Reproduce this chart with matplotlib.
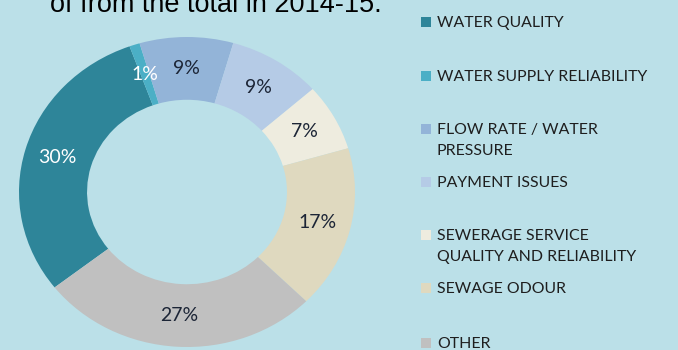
import matplotlib
matplotlib.use("Agg")
import matplotlib.pyplot as plt
from matplotlib.patches import Rectangle

# data
categories = [
    "WATER QUALITY",
    "WATER SUPPLY RELIABILITY",
    "FLOW RATE / WATER\nPRESSURE",
    "PAYMENT ISSUES",
    "SEWERAGE SERVICE\nQUALITY AND RELIABILITY",
    "SEWAGE ODOUR",
    "OTHER",
]
shares = [30, 1, 9, 9, 7, 17, 27]
colours = ["#2e8599", "#4bafc6", "#93b4d8", "#b5cbe6", "#eeecdf", "#dfd9bf", "#c0c0c0"]
label_colours = ["white", "white", "#1c2536", "#1c2536", "#1c2536", "#1c2536", "#1c2536"]
title_tail = "of from the total in 2014-15."

BG = "#bbe0e8"
W, H = 678, 350

fig = plt.figure(figsize=(W / 100, H / 100), dpi=100, facecolor=BG)

# cut-off sentence at the very top (cropped in the reference too)
fig.text(50 / W, 1 - 12 / H, title_tail, fontsize=19.5, family="Liberation Sans",
         color="black", ha="left", va="baseline")

# donut (slightly wider than tall, like the reference)
cx, cy, rx, ry = 187, 192, 168, 155
ax = fig.add_axes([(cx - rx) / W, (H - cy - ry) / H, 2 * rx / W, 2 * ry / H])
ax.set_facecolor(BG)
wedges, texts, pcts = ax.pie(
    shares,
    colors=colours,
    startangle=218,
    counterclock=False,
    radius=1,
    wedgeprops=dict(width=0.405, edgecolor="none"),
    autopct=lambda p: f"{p:.0f}%",
    pctdistance=0.8,
    textprops=dict(family="Lato", fontsize=14),
)
for t, c in zip(pcts, label_colours):
    t.set_color(c)
ax.set_aspect("auto")
ax.set_xlim(-1, 1)
ax.set_ylim(-1, 1)
ax.axis("off")

# legend drawn by hand to keep the uneven Excel-style layout
row_y = [22, 76, 129, 182, 235, 288, 343]
for name, col, y in zip(categories, colours, row_y):
    fig.patches.append(Rectangle((421 / W, 1 - (y + 5) / H), 10 / W, 10 / H,
                                 transform=fig.transFigure, facecolor=col,
                                 edgecolor="none"))
    fig.text(437 / W, 1 - (y - 6) / H, name, fontsize=11.4, family="Lato",
             color="#1e1e1e", ha="left", va="top", linespacing=1.6)

fig.savefig("out.png", dpi=100, facecolor=BG)
